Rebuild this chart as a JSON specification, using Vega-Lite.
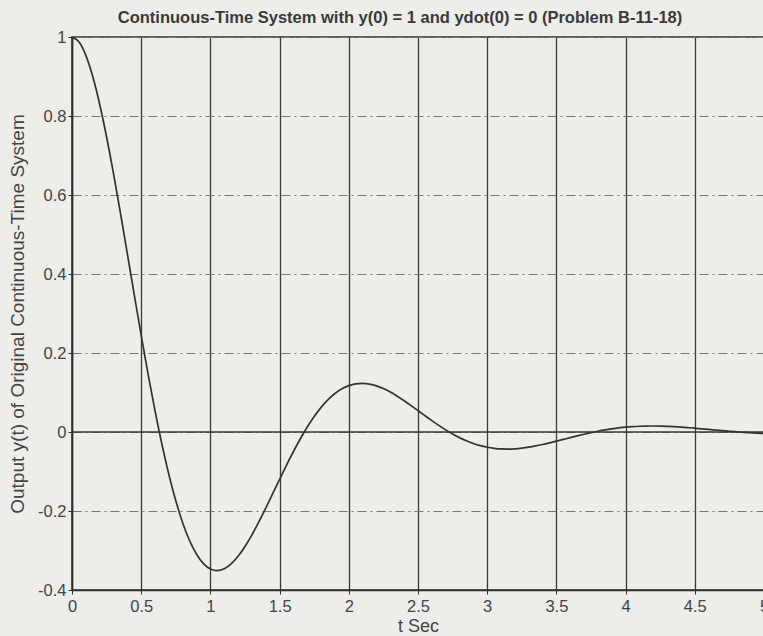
{
  "$schema": "https://vega.github.io/schema/vega-lite/v6.json",
  "width": 692,
  "height": 553,
  "autosize": {"type": "none"},
  "padding": {"left": 72, "top": 37, "right": 0, "bottom": 46},
  "background": "#ededea",
  "title": {
    "text": "Continuous-Time System with y(0) = 1 and ydot(0) = 0 (Problem B-11-18)",
    "font": "Liberation Sans",
    "fontSize": 16.5,
    "fontWeight": "bold",
    "color": "#3a3a3a",
    "anchor": "middle",
    "dx": -18,
    "offset": 3
  },
  "config": {
    "view": {"stroke": "#2e2e2e", "strokeWidth": 1.5, "fill": "#ededea"},
    "axis": {
      "labelFont": "Liberation Sans",
      "labelFontSize": 16.5,
      "labelColor": "#444",
      "titleFont": "Liberation Sans",
      "titleFontSize": 18,
      "titleFontWeight": "normal",
      "titleColor": "#444",
      "domainColor": "#2e2e2e",
      "domainWidth": 1.5,
      "tickColor": "#2e2e2e",
      "tickSize": 4
    }
  },
  "layer": [
    {
      "data": {"values": [{"z": 0}]},
      "mark": {"type": "rule", "color": "#3a3a3a", "strokeWidth": 1.3},
      "encoding": {"y": {"field": "z", "type": "quantitative", "scale": {"domain": [-0.4, 1]}}}
    },
    {
      "data": {"values": [
        {"t": 0, "y": 1.0}, {"t": 0.05, "y": 0.98793}, {"t": 0.1, "y": 0.95356}, {"t": 0.15, "y": 0.89981},
        {"t": 0.2, "y": 0.82982}, {"t": 0.25, "y": 0.74679}, {"t": 0.3, "y": 0.65394}, {"t": 0.35, "y": 0.55439},
        {"t": 0.4, "y": 0.45115}, {"t": 0.45, "y": 0.34703}, {"t": 0.5, "y": 0.24458}, {"t": 0.55, "y": 0.14606},
        {"t": 0.6, "y": 0.05346}, {"t": 0.65, "y": -0.0316}, {"t": 0.7, "y": -0.10781}, {"t": 0.75, "y": -0.17422},
        {"t": 0.8, "y": -0.23016}, {"t": 0.85, "y": -0.27537}, {"t": 0.9, "y": -0.30965}, {"t": 0.95, "y": -0.33343},
        {"t": 1.0, "y": -0.34689}, {"t": 1.05, "y": -0.35089}, {"t": 1.1, "y": -0.34621}, {"t": 1.15, "y": -0.33373},
        {"t": 1.2, "y": -0.31453}, {"t": 1.25, "y": -0.28968}, {"t": 1.3, "y": -0.26032}, {"t": 1.35, "y": -0.22757},
        {"t": 1.4, "y": -0.19254}, {"t": 1.45, "y": -0.15628}, {"t": 1.5, "y": -0.11974}, {"t": 1.55, "y": -0.08381},
        {"t": 1.6, "y": -0.04938}, {"t": 1.65, "y": -0.01701}, {"t": 1.7, "y": 0.01267}, {"t": 1.75, "y": 0.03923},
        {"t": 1.8, "y": 0.06234}, {"t": 1.85, "y": 0.08176}, {"t": 1.9, "y": 0.09739}, {"t": 1.95, "y": 0.10923},
        {"t": 2.0, "y": 0.11734}, {"t": 2.05, "y": 0.1219}, {"t": 2.1, "y": 0.12313}, {"t": 2.15, "y": 0.12131},
        {"t": 2.2, "y": 0.1168}, {"t": 2.25, "y": 0.10993}, {"t": 2.3, "y": 0.10112}, {"t": 2.35, "y": 0.09073},
        {"t": 2.4, "y": 0.07919}, {"t": 2.45, "y": 0.06686}, {"t": 2.5, "y": 0.05412}, {"t": 2.55, "y": 0.0413},
        {"t": 2.6, "y": 0.02873}, {"t": 2.65, "y": 0.01667}, {"t": 2.7, "y": 0.00536}, {"t": 2.75, "y": -0.005},
        {"t": 2.8, "y": -0.01426}, {"t": 2.85, "y": -0.02229}, {"t": 2.9, "y": -0.02903}, {"t": 2.95, "y": -0.03445},
        {"t": 3.0, "y": -0.03852}, {"t": 3.05, "y": -0.04131}, {"t": 3.1, "y": -0.04283}, {"t": 3.15, "y": -0.0432},
        {"t": 3.2, "y": -0.04251}, {"t": 3.25, "y": -0.04087}, {"t": 3.3, "y": -0.03842}, {"t": 3.35, "y": -0.0353},
        {"t": 3.4, "y": -0.03162}, {"t": 3.45, "y": -0.02755}, {"t": 3.5, "y": -0.02321}, {"t": 3.55, "y": -0.01874},
        {"t": 3.6, "y": -0.01424}, {"t": 3.65, "y": -0.00984}, {"t": 3.7, "y": -0.00562}, {"t": 3.75, "y": -0.00167},
        {"t": 3.8, "y": 0.00195}, {"t": 3.85, "y": 0.00517}, {"t": 3.9, "y": 0.00797}, {"t": 3.95, "y": 0.01031},
        {"t": 4.0, "y": 0.01218}, {"t": 4.05, "y": 0.01358}, {"t": 4.1, "y": 0.01453}, {"t": 4.15, "y": 0.01505},
        {"t": 4.2, "y": 0.01516}, {"t": 4.25, "y": 0.01489}, {"t": 4.3, "y": 0.0143}, {"t": 4.35, "y": 0.01343},
        {"t": 4.4, "y": 0.01232}, {"t": 4.45, "y": 0.01102}, {"t": 4.5, "y": 0.00959}, {"t": 4.55, "y": 0.00806},
        {"t": 4.6, "y": 0.00649}, {"t": 4.65, "y": 0.00491}, {"t": 4.7, "y": 0.00337}, {"t": 4.75, "y": 0.00189},
        {"t": 4.8, "y": 0.00051}, {"t": 4.85, "y": -0.00075}, {"t": 4.9, "y": -0.00187}, {"t": 4.95, "y": -0.00285},
        {"t": 5.0, "y": -0.00366}
      ]},
      "mark": {"type": "line", "color": "#333", "strokeWidth": 1.7, "interpolate": "monotone", "clip": true},
      "encoding": {
        "x": {
          "field": "t", "type": "quantitative",
          "scale": {"domain": [0, 5], "nice": false},
          "axis": {
            "title": "t Sec", "values": [0, 0.5, 1, 1.5, 2, 2.5, 3, 3.5, 4, 4.5, 5],
            "labelExpr": "datum.value", "labelPadding": 4,
            "titleY": 36, "titleBaseline": "middle", "titleX": 346,
            "grid": true, "gridColor": "#3a3a3a", "gridWidth": 1.3,
            "labelFlush": false
          }
        },
        "y": {
          "field": "y", "type": "quantitative",
          "scale": {"domain": [-0.4, 1], "nice": false, "zero": false},
          "axis": {
            "title": "Output y(t) of Original Continuous-Time System",
            "titleFontSize": 19,
            "values": [-0.4, -0.2, 0, 0.2, 0.4, 0.6, 0.8, 1],
            "labelExpr": "datum.value", "labelPadding": 2,
            "titleX": -55, "titleBaseline": "middle",
            "grid": true, "gridColor": "#777", "gridWidth": 1, "gridDash": [9, 4, 2, 4],
            "labelFlush": false
          }
        }
      }
    }
  ]
}
